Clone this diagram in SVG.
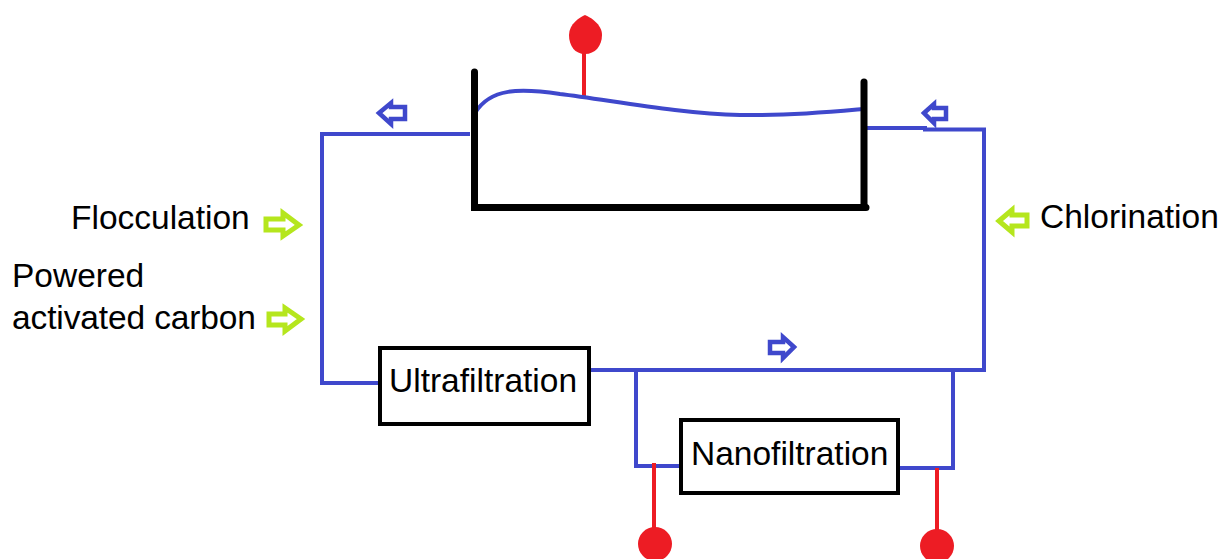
<svg xmlns="http://www.w3.org/2000/svg" width="1220" height="559" viewBox="0 0 1220 559">
<style>
text{font-family:"Liberation Sans",Arial,sans-serif;font-size:33.5px;fill:#000}
.b{fill:none;stroke:#3f48cc;stroke-width:4}
.r{fill:none;stroke:#ed1c24;stroke-width:4}
.k{fill:none;stroke:#000;stroke-width:7;stroke-linecap:round}
.ab{fill:#fff;stroke:#3f48cc;stroke-width:4.500;stroke-miterlimit:10}
.ag{fill:#fff;stroke:#b5e61d;stroke-width:5;stroke-miterlimit:10}
.box{fill:#fff;stroke:#000;stroke-width:4}
.d{fill:#ed1c24}
</style>
<rect width="1220" height="559" fill="#fff"/>
<g id="connectors">
<path class="b" d="M470 134H322V383H382"/>
<path class="b" d="M865 128H925V129.500H984V370H588"/>
<path class="b" d="M636 370V466H682"/>
<path class="b" d="M953 370V468H898"/>
<path class="r" d="M584 52V97"/>
<path class="r" d="M654 463V530"/>
<path class="r" d="M937 468V532"/>
</g>
<g id="tank">
<path class="b" d="M475 113C490 88 520 88 560 94C610 100 680 114 740 115C790 116 830 112 863 109"/>
<path class="k" d="M474.500 72V207.500H866"/>
<path class="k" d="M864 82V207"/>
</g>
<g id="sensor-top"><path class="d" d="M585 15C590 17 602 24 602 35C602 46 595 54 585 54C575 54 569 46 569 35C569 24 580 17 585 15Z"/></g>
<g id="sensor-left"><circle class="d" cx="655" cy="544" r="17"/></g>
<g id="sensor-right"><circle class="d" cx="937" cy="546" r="17"/></g>
<g id="ultrafiltration">
<rect class="box" x="380" y="348" width="209" height="76"/>
<text x="389" y="392">Ultrafiltration</text>
</g>
<g id="nanofiltration">
<rect class="box" x="681" y="420" width="217" height="73"/>
<text x="691" y="465">Nanofiltration</text>
</g>
<g id="arrow-out"><path class="ab" d="M379 113L391 103V107H405V119H391V124Z"/></g>
<g id="arrow-return"><path class="ab" d="M924 113L934 104V108H946V119H934V123Z"/></g>
<g id="arrow-forward"><path class="ab" d="M794 347L783 337V342H770V353H783V358Z"/></g>
<g id="chlorination">
<path class="ag" d="M999 221L1012 210V215H1027V226H1012V232Z"/>
<text x="1040" y="228">Chlorination</text>
</g>
<g id="flocculation">
<path class="ag" d="M299 225L283 213V219H266V230H283V236Z"/>
<text x="71" y="229">Flocculation</text>
</g>
<g id="carbon">
<path class="ag" d="M301 319L285 308V314H269V325H285V331Z"/>
<text x="12" y="287">Powered</text>
<text x="12" y="329" textLength="244">activated carbon</text>
</g>
</svg>
